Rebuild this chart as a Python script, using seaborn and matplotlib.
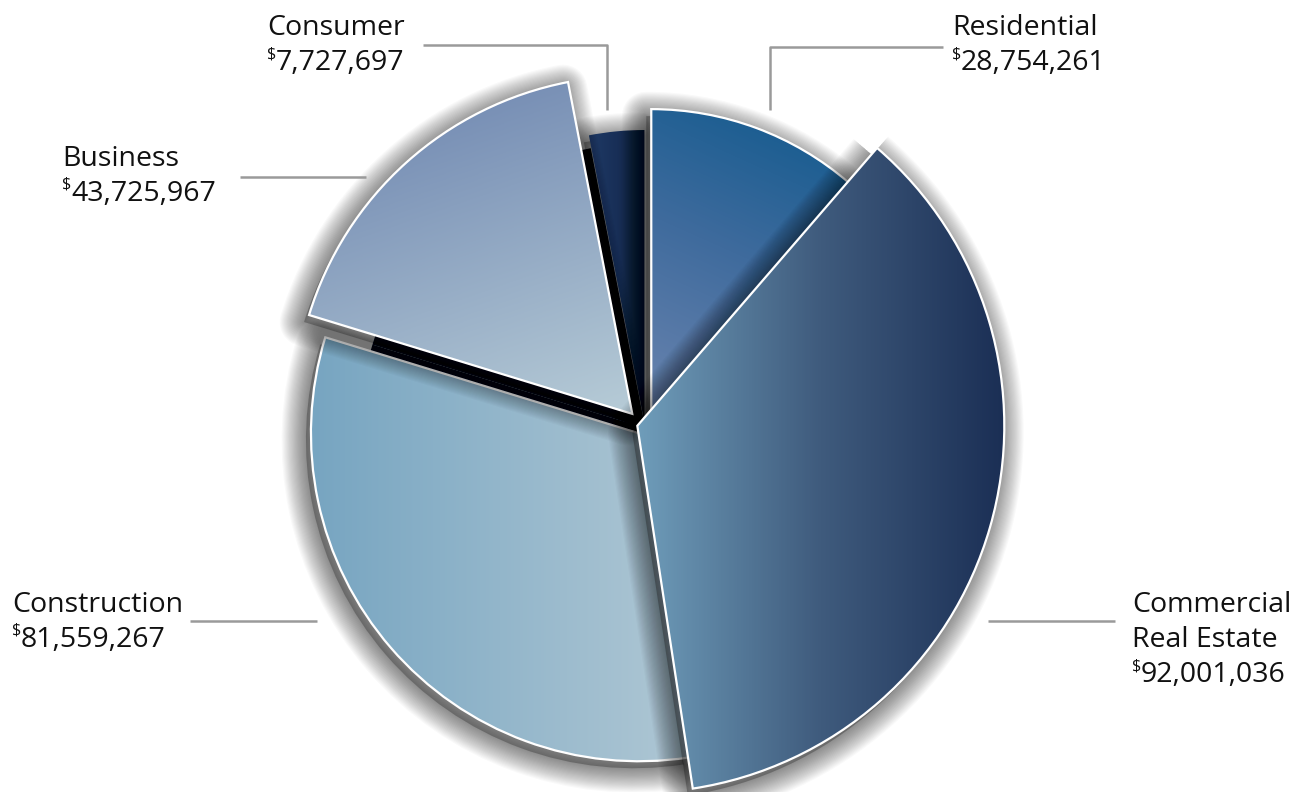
import numpy as np
import matplotlib
matplotlib.use("Agg")
import matplotlib.pyplot as plt
import seaborn as sns
from matplotlib.colors import LinearSegmentedColormap
from matplotlib.patches import Wedge

# Loan portfolio by category (clockwise from 12 o'clock)
categories = ["Residential", "Commercial Real Estate", "Construction", "Business", "Consumer"]
amounts = [28754261, 92001036, 81559267, 43725967, 7727697]
label_lines = [["Residential"], ["Commercial", "Real Estate"], ["Construction"], ["Business"], ["Consumer"]]

# styling / layout (pixel space, y pointing down)
center = (645, 428)
explode = [18, -8, 8, 19, 6]
radii = [302, 367, 328, 338, 292]
layer = [3, 6, 4, 5, 2]
edges = ["white", "white", "white", "white", "none"]
base_colors = ["none", "none", "#0a1427", "#0a1427", "none"]
gradients = [
    (["#0f598d", "#3f6b9d", "#6a84af"], (-0.45, 1.0)),
    (["#6f9dba", "#3f5b7d", "#1b2f55"], (1.0, 0.0)),
    (["#77a5c1", "#afc7d4"], (1.0, 0.0)),
    (["#6a82ae", "#b7ccd7"], (0.35, 1.0)),
    (["#1f3a66", "#182f57", "#0e1b33"], (1.0, 0.0)),
]
label_pos = [(952, 35), (1132, 612), (12, 612), (62, 166), (267, 35)]
leaders = [
    [(770, 110), (770, 47), (943, 47)],
    [(988, 621), (1115, 621)],
    [(190, 621), (317, 621)],
    [(240, 177), (366, 177)],
    [(423, 45), (607, 45), (607, 110)],
]

sns.set_theme(style="white")
plt.rcParams["font.family"] = ["Open Sans", "DejaVu Sans"]

fig = plt.figure(figsize=(13.12, 7.92), dpi=100)
ax = fig.add_axes([0, 0, 1, 1])

# dark underside visible through the gap between business and construction
base, _ = ax.pie(amounts, radius=285, center=center, startangle=-90, counterclock=True,
                 colors=base_colors, wedgeprops=dict(linewidth=0))
for b in base:
    b.set_zorder(1)

wedges, _ = ax.pie(amounts, radius=300, center=center, startangle=-90, counterclock=True,
                   explode=explode,
                   wedgeprops=dict(facecolor="none", linewidth=1.6))


def add_shadow(w, z):
    # soft drop shadow: one faint fill plus widening translucent strokes
    cx, cy = w.center
    sc = (cx - 5, cy + 7)
    ax.add_patch(Wedge(sc, w.r, w.theta1, w.theta2, facecolor=(0, 0, 0, 0.25),
                       linewidth=0, zorder=z))
    for k in range(22):
        lw = 1.5 + 1.6 * k
        ax.add_patch(Wedge(sc, w.r, w.theta1, w.theta2, facecolor="none",
                           edgecolor=(0, 0, 0, 0.022), linewidth=lw,
                           joinstyle="round", zorder=z))


def gradient_fill(w, colors, direction, z):
    ext = w.get_path().get_extents()
    x0, y0, x1, y1 = ext.x0, ext.y0, ext.x1, ext.y1
    xs = np.linspace(x0, x1, 300)
    ys = np.linspace(y0, y1, 300)
    X, Y = np.meshgrid(xs, ys)
    t = X * direction[0] + Y * direction[1]
    t = (t - t.min()) / (t.max() - t.min())
    cmap = LinearSegmentedColormap.from_list("g", colors)
    im = ax.imshow(t, extent=(x0, x1, y1, y0), origin="upper", cmap=cmap,
                   vmin=0, vmax=1, interpolation="bilinear", zorder=z)
    im.set_clip_path(w)


for w, r, z, ec, (cols, d) in zip(wedges, radii, layer, edges, gradients):
    w.set_radius(r)
    w.set_edgecolor(ec)
    w.set_zorder(z + 0.3)
    add_shadow(w, z)
    gradient_fill(w, cols, d, z + 0.2)

# labels and leader lines
for lines, amt, (lx, ly), pts in zip(label_lines, amounts, label_pos, leaders):
    for i, line in enumerate(lines):
        ax.text(lx, ly + i * 35, line, fontsize=20.5, color="#111111", va="baseline", zorder=20)
    vy = ly + len(lines) * 35
    ax.text(lx, vy - 12, "$", fontsize=11.5, color="#111111", va="baseline", zorder=20)
    ax.text(lx + 9, vy, f"{amt:,}", fontsize=20.5, color="#111111", va="baseline", zorder=20)
    xs, ys = zip(*pts)
    ax.plot(xs, ys, color="#9a9a9a", linewidth=1.8, solid_capstyle="butt", zorder=20)

ax.set_xlim(0, 1312)
ax.set_ylim(792, 0)
ax.set_aspect("equal")
ax.axis("off")

fig.savefig("out.png", dpi=100)
plt.close(fig)
